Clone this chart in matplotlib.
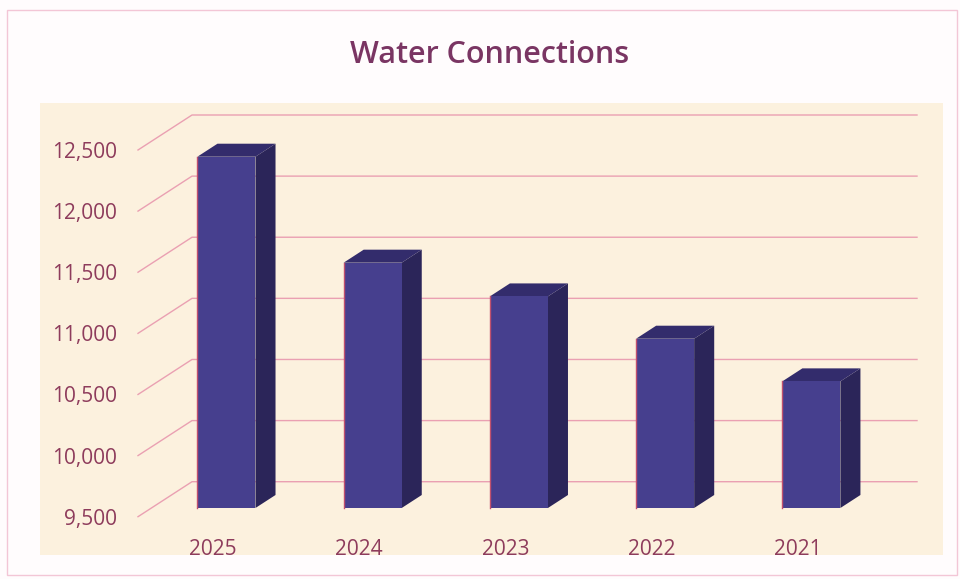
import matplotlib.pyplot as plt
from matplotlib.patches import Polygon, Rectangle
from matplotlib.lines import Line2D

# data
years = ["2025", "2024", "2023", "2022", "2021"]
connections = [12374, 11507, 11231, 10885, 10536]
y_ticks = [9500, 10000, 10500, 11000, 11500, 12000, 12500]

W, H = 960, 579
BASE = 9500

# colours
bg_color = "#fcf1de"
front_color = "#463f8e"
side_color = "#2b2559"
top_color = "#332c6c"
edge_color = "#c0506e"
grid_color = "#eaa0b2"
text_color = "#8e3c5c"
title_color = "#7a3563"

plt.rcParams['font.family'] = ['Open Sans', 'DejaVu Sans']

fig = plt.figure(figsize=(W / 100, H / 100), dpi=100)
fig.patch.set_facecolor("#fffcfd")

# faint outer border and beige plot area (behind the axes)
fig.add_artist(Rectangle((7 / W, 1 - 575 / H), 950 / W, 565 / H, transform=fig.transFigure,
                         fill=False, edgecolor="#f3c6d6", linewidth=1.0, zorder=-2))
fig.add_artist(Rectangle((40 / W, 1 - 555 / H), 903 / W, 452 / H, transform=fig.transFigure,
                         facecolor=bg_color, edgecolor="none", zorder=-1))

# axes = front plane of the pseudo 3D chart
left, right = 138, 863
top, bottom = 150, 516.7
ax = fig.add_axes([left / W, 1 - bottom / H, (right - left) / W, (bottom - top) / H])
ax.set_facecolor("none")
ax.set_xlim(-0.513, 4.445)
ax.set_ylim(9500, 12500)
for s in ax.spines.values():
    s.set_visible(False)

# pixel -> data conversion for the depth offsets
px_x = (4.445 + 0.513) / (right - left)
px_y = 3000 / (bottom - top)
ratio = 54 / 35  # horizontal px per vertical px in depth direction


def depth(d):
    # shift of d pixels up along the depth direction, in data units
    return d * ratio * px_x, d * px_y


# gridlines: slanted part on the left plus back wall line
wx, wy = depth(35)
for t in y_ticks:
    ax.add_line(Line2D([-0.513, -0.513 + wx, 4.445 + wx], [t, t + wy, t + wy],
                       color=grid_color, linewidth=1.0, clip_on=False, zorder=1))

# bars
bw = 0.397
fx, fy = depth(8.7)
bx, by = depth(21.7)
for i, v in enumerate(connections):
    x0 = i - bw / 2 + fx
    x1 = i + bw / 2 + fx
    y0 = BASE + fy
    y1 = v + fy
    ax.bar(i + fx, v - BASE, bottom=y0, width=bw, color=front_color,
           edgecolor="none", zorder=4, clip_on=False)
    # pinkish fringe on the left edge, as in the scanned original
    ax.add_line(Line2D([x0, x0], [y0, y1], color=edge_color, linewidth=1.0,
                       zorder=5, clip_on=False))
    dx, dy = bx - fx, by - fy
    ax.add_patch(Polygon([(x1, y0), (x1 + dx, y0 + dy), (x1 + dx, y1 + dy), (x1, y1)],
                         closed=True, facecolor=side_color, edgecolor="none",
                         zorder=3, clip_on=False))
    ax.add_patch(Polygon([(x0, y1), (x0 + dx, y1 + dy), (x1 + dx, y1 + dy), (x1, y1)],
                         closed=True, facecolor=top_color, edgecolor="none",
                         zorder=3, clip_on=False))

ax.set_xticks(range(len(years)))
ax.set_xticklabels(years)
ax.set_yticks(y_ticks)
ax.set_yticklabels([f"{t:,}" for t in y_ticks])
ax.tick_params(axis='both', length=0, colors=text_color, labelsize=15)
ax.tick_params(axis='y', pad=15)
ax.tick_params(axis='x', pad=16)

fig.text(490 / W, 1 - 55 / H, "Water Connections", ha='center', va='center',
         fontsize=22, fontweight='semibold', color=title_color)

fig.savefig("out.png", dpi=100)
